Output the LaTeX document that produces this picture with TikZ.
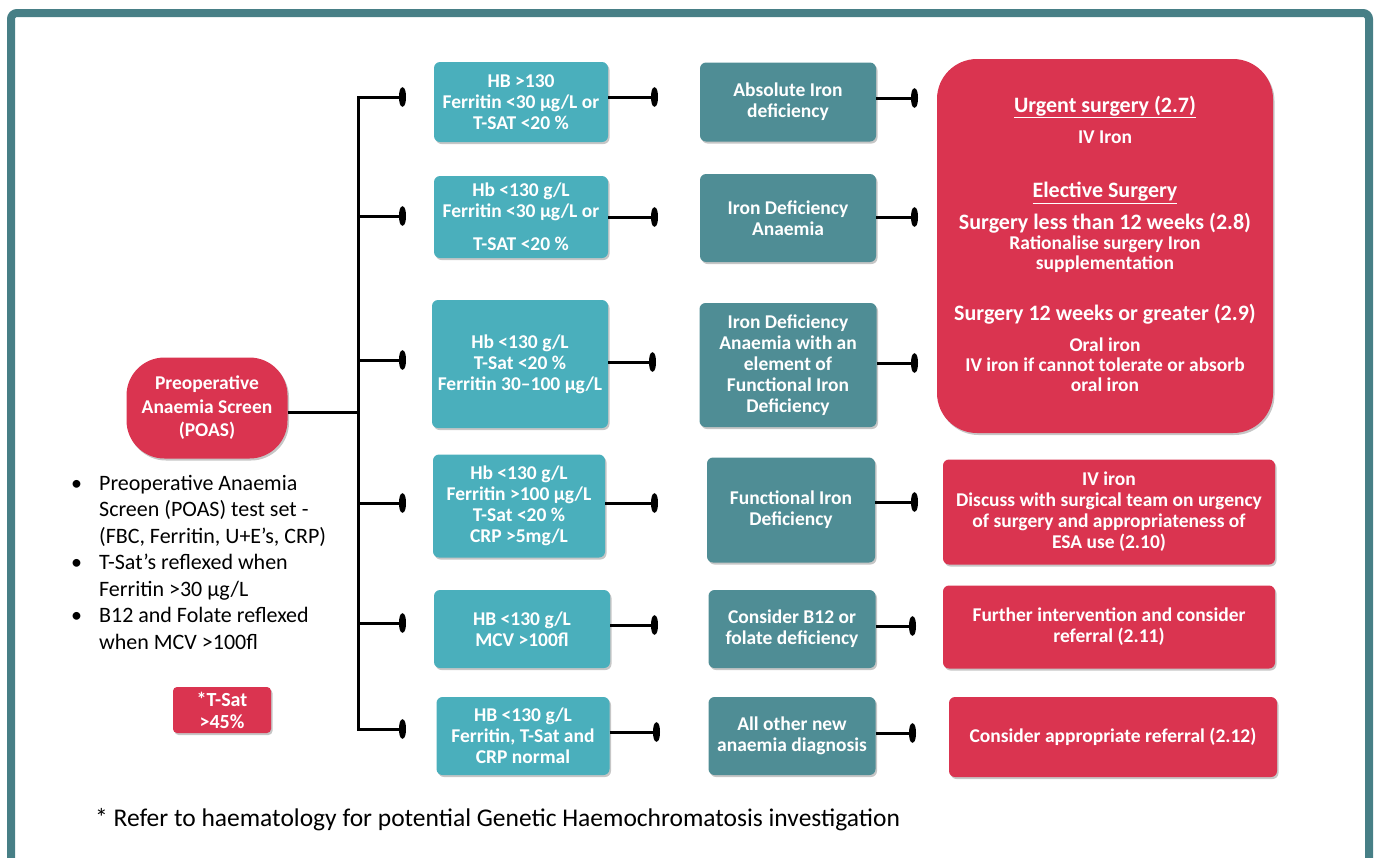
\documentclass[tikz,border=0pt]{standalone}
\usepackage{fontspec}
\setmainfont{Carlito}
\usetikzlibrary{arrows.meta,shadows}

\definecolor{framecol}{HTML}{477F86}
\definecolor{lteal}{HTML}{4AAFBC}
\definecolor{dteal}{HTML}{4F8D95}
\definecolor{redbox}{HTML}{DA3450}

\begin{document}
\begin{tikzpicture}[x=1pt,y=-1pt,>=Latex,
 tip/.style={line width=3pt,-{Ellipse[length=7pt,width=19pt]}},
 base/.style={rounded corners=6pt,align=center,inner sep=0pt,text=white,
   font=\bfseries\fontsize{19.5}{21}\selectfont,
   drop shadow={shadow xshift=1.5pt,shadow yshift=-2pt,opacity=0.45}},
 test/.style={base,fill=lteal,minimum width=174pt,minimum height=80pt},
 diag/.style={base,fill=dteal,minimum width=176pt,minimum height=80pt},
 act/.style={base,fill=redbox,minimum width=332pt,minimum height=82pt},
 bigtxt/.style={inner sep=0pt,align=center,text=white,font=\bfseries\fontsize{22}{24}\selectfont},
 smalltxt/.style={inner sep=0pt,align=center,text=white,font=\bfseries\fontsize{19.5}{20}\selectfont}]
\useasboundingbox (0,0) rectangle (1376,857);
% outer frame
\draw[framecol,line width=8pt,rounded corners=6pt] (11,870) -- (11,13) -- (1369,13) -- (1369,870);

% start
\node[base,fill=redbox,minimum width=161pt,minimum height=101pt,rounded corners=38pt,
  font=\bfseries\fontsize{19.5}{23.5}\selectfont] (poas) at (207,408) {Preoperative\\Anaemia Screen\\(POAS)};
\node[anchor=base west,inner sep=0pt,font=\fontsize{22}{26.5}\selectfont] (notes) at (71,490)
  {\begin{tabular}[t]{@{}l@{\hspace{17pt}}l@{}}
   \textbullet & Preoperative Anaemia\\
    & Screen (POAS) test set -\\
    & (FBC, Ferritin, U+E’s, CRP)\\
   \textbullet & T-Sat’s reflexed when\\
    & Ferritin >30 µg/L\\
   \textbullet & B12 and Folate reflexed\\
    & when MCV >100fl
  \end{tabular}};
\node[base,fill=redbox,rounded corners=4pt,minimum width=98pt,minimum height=46pt,
  font=\bfseries\fontsize{20}{22}\selectfont] (tsat) at (222,710) {*T-Sat\\>45\%};
\node[anchor=base west,inner sep=0pt,font=\fontsize{25.5}{27}\selectfont] (foot) at (95,826)
  {* Refer to haematology for potential Genetic Haemochromatosis investigation};

% tests
\node[test] (t1) at (521,102) {HB >130\\Ferritin <30 µg/L or\\T-SAT <20 \%};
\node[test,minimum height=82pt] (t2) at (521,217) {Hb <130 g/L\\Ferritin <30 µg/L or\\[12pt]T-SAT <20 \%};
\node[test,minimum width=176pt,minimum height=128pt] (t3) at (520,364) {Hb <130 g/L\\T-Sat <20 \%\\Ferritin 30–100 µg/L};
\node[test,minimum width=172pt,minimum height=103pt] (t4) at (519,506) {Hb <130 g/L\\Ferritin >100 µg/L\\T-Sat <20 \%\\CRP >5mg/L};
\node[test,minimum width=176pt,minimum height=78pt] (t5) at (522,629) {HB <130 g/L\\MCV >100fl};
\node[test,minimum width=173pt,minimum height=78pt] (t6) at (523,736) {HB <130 g/L\\Ferritin, T-Sat and\\CRP normal};

% diagnoses
\node[diag,minimum height=79pt] (d1) at (788,102) {Absolute Iron\\deficiency};
\node[diag,minimum height=88pt] (d2) at (788,218) {Iron Deficiency\\Anaemia};
\node[diag,minimum width=177pt,minimum height=124pt] (d3) at (788,365) {Iron Deficiency\\Anaemia with an\\element of\\Functional Iron\\Deficiency};
\node[diag,minimum width=168pt,minimum height=105pt] (d4) at (791,510) {Functional Iron\\Deficiency};
\node[diag,minimum width=167pt,minimum height=78pt] (d5) at (792,629) {Consider B12 or\\folate deficiency};
\node[diag,minimum width=167pt,minimum height=78pt] (d6) at (792,736) {All other new\\anaemia diagnosis};

% actions
\node[base,fill=redbox,rounded corners=40pt,minimum width=336pt,minimum height=374pt] (big) at (1105,246) {};
\node[bigtxt] (urg) at (1105,107) {\underline{Urgent surgery (2.7)}};
\node[smalltxt] (urgiv) at (1105,137) {IV Iron};
\node[bigtxt] (elec) at (1105,193) {\underline{Elective Surgery}};
\node[bigtxt] (lt12) at (1105,223) {Surgery less than 12 weeks (2.8)};
\node[smalltxt] (lt12b) at (1105,254) {Rationalise surgery Iron\\supplementation};
\node[bigtxt] (ge12) at (1105,314) {Surgery 12 weeks or greater (2.9)};
\node[smalltxt] (ge12b) at (1105,365) {Oral iron\\IV iron if cannot tolerate or absorb\\oral iron};
\node[act,minimum height=105pt] (a4) at (1109,512) {IV iron\\Discuss with surgical team on urgency\\of surgery and appropriateness of\\ESA use (2.10)};
\node[act,minimum height=83pt] (a5) at (1109,627) {Further intervention and consider\\referral (2.11)};
\node[act,minimum width=328pt,minimum height=80pt] (a6) at (1113,737) {Consider appropriate referral (2.12)};

% connector ends
\coordinate (j) at (358,412);
\coordinate (b1) at (406,97);  \coordinate (k1) at (658,97);  \coordinate (m1) at (918,98);
\coordinate (b2) at (406,216); \coordinate (k2) at (658,217); \coordinate (m2) at (918,217);
\coordinate (b3) at (406,360); \coordinate (k3) at (656,362); \coordinate (m3) at (918,363);
\coordinate (b4) at (406,503); \coordinate (k4) at (658,503); \coordinate (m4) at (918,502);
\coordinate (b5) at (406,623); \coordinate (k5) at (658,625); \coordinate (m5) at (916,626);
\coordinate (b6) at (406,729); \coordinate (k6) at (660,732); \coordinate (m6) at (916,733);

\draw[line width=3pt] (poas.east |- j) -- (j);
\draw[line width=3pt,line cap=rect] (b1 -| j) -- (b6 -| j);
\draw[tip] (b1 -| j) -- (b1);
\draw[tip] (b2 -| j) -- (b2);
\draw[tip] (b3 -| j) -- (b3);
\draw[tip] (b4 -| j) -- (b4);
\draw[tip] (b5 -| j) -- (b5);
\draw[tip] (b6 -| j) -- (b6);

\draw[tip] (t1.east |- k1) -- (k1);
\draw[tip] (t2.east |- k2) -- (k2);
\draw[tip] (t3.east |- k3) -- (k3);
\draw[tip] (t4.east |- k4) -- (k4);
\draw[tip] (t5.east |- k5) -- (k5);
\draw[tip] (t6.east |- k6) -- (k6);

\draw[tip] (d1.east |- m1) -- (m1);
\draw[tip] (d2.east |- m2) -- (m2);
\draw[tip] (d3.east |- m3) -- (m3);
\draw[tip] (d4.east |- m4) -- (m4);
\draw[tip] (d5.east |- m5) -- (m5);
\draw[tip] (d6.east |- m6) -- (m6);
\end{tikzpicture}
\end{document}
